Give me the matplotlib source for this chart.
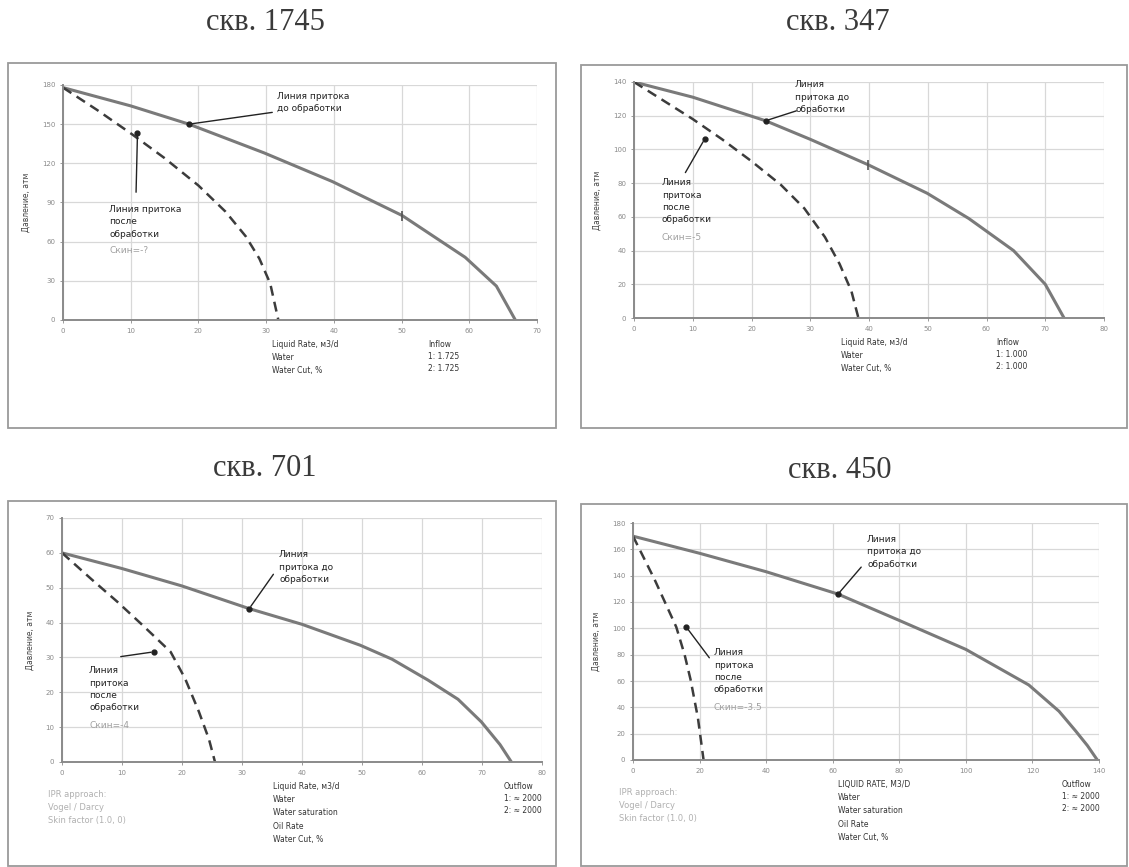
import matplotlib
matplotlib.use("Agg")
import matplotlib.pyplot as plt
from matplotlib.patches import Rectangle

W, H = 1129, 867

# ---- data (pressure, atm vs liquid rate, m3/d) ----
titles = ["скв. 1745", "скв. 347", "скв. 701", "скв. 450"]

q_before_1745 = [0, 10, 18.6, 29.7, 39.8, 50.1, 59.4, 64, 66.8]
p_before_1745 = [178, 164, 150, 128, 106, 80, 48, 26, 0]
q_after_1745 = [0, 5, 10, 15, 20, 24, 27, 29, 30.6, 31.8]
p_after_1745 = [178, 161, 143, 124, 103, 83, 64, 47, 28, 0]

q_before_347 = [0, 10, 22.4, 30, 39.8, 49.9, 57, 64.6, 70, 73.2]
p_before_347 = [140, 131, 117, 106, 91, 74, 59, 40, 20, 0]
q_after_347 = [0, 5, 10, 15, 20, 25, 29, 32.5, 35, 37, 38.2]
p_after_347 = [140, 129, 118, 106, 93, 79, 65, 48, 32, 16, 0]

q_before_701 = [0, 10, 20, 31.2, 40, 49.7, 55, 61, 66, 69.9, 73, 74.9]
p_before_701 = [60, 55.5, 50.5, 44, 39.5, 33.5, 29.5, 23.5, 18, 11.5, 5, 0]
q_after_701 = [0, 5, 9.2, 13.4, 18.1, 20.5, 22.8, 24.5, 25.5]
p_after_701 = [60, 52.3, 46, 39.3, 31.6, 24, 14.5, 6.5, 0]

q_before_450 = [0, 20, 40, 61.6, 80, 100, 118.9, 128, 133, 136.5, 139.5]
p_before_450 = [170, 157, 143, 126, 106, 84, 57, 37, 22, 11, 0]
q_after_450 = [0, 6.5, 13, 15.5, 17.3, 19.5, 21.2]
p_after_450 = [170, 137, 101, 80, 61, 32, 0]

x_ticks = [list(range(0, 71, 10)), list(range(0, 81, 10)),
           list(range(0, 81, 10)), list(range(0, 141, 20))]
y_ticks = [list(range(0, 181, 30)), list(range(0, 141, 20)),
           list(range(0, 71, 10)), list(range(0, 181, 20))]

skins = ["Скин=-?", "Скин=-5", "Скин=-4", "Скин=-3.5"]

mid_texts = [
    ["Liquid Rate, м3/d", "Water", "Water Cut, %"],
    ["Liquid Rate, м3/d", "Water", "Water Cut, %"],
    ["Liquid Rate, м3/d", "Water", "Water saturation", "Oil Rate", "Water Cut, %"],
    ["LIQUID RATE, М3/D", "Water", "Water saturation", "Oil Rate", "Water Cut, %"],
]
right_texts = [
    ["Inflow", "1: 1.725", "2: 1.725"],
    ["Inflow", "1: 1.000", "2: 1.000"],
    ["Outflow", "1: ≈ 2000", "2: ≈ 2000"],
    ["Outflow", "1: ≈ 2000", "2: ≈ 2000"],
]
left_texts = [None, None,
              ["IPR approach:", "Vogel / Darcy", "Skin factor (1.0, 0)"],
              ["IPR approach:", "Vogel / Darcy", "Skin factor (1.0, 0)"]]

# ---- layout (pixels) ----
axes_px = [(63, 85, 537, 320), (634, 82, 1104, 318),
           (62, 518, 542, 762), (633, 523, 1099, 760)]
frames_px = [(8, 63, 556, 428), (581, 65, 1127, 428),
             (8, 501, 556, 866), (581, 504, 1127, 866)]
title_px = [(265, 22), (838, 22), (265, 468), (840, 470)]

curves = [
    (q_before_1745, p_before_1745, q_after_1745, p_after_1745),
    (q_before_347, p_before_347, q_after_347, p_after_347),
    (q_before_701, p_before_701, q_after_701, p_after_701),
    (q_before_450, p_before_450, q_after_450, p_after_450),
]
# which point of each curve the callout arrows point at
tip_before = [2, 2, 3, 3]
tip_after = [2, 3, 4, 2]
# callout text anchors (pixels) and arrow tails
before_label_px = [(277, 92), (795, 80), (279, 550), (867, 535)]
before_tail_px = [(275, 112), (799, 110), (275, 572), (863, 565)]
after_label_px = [(109, 205), (662, 178), (89, 666), (714, 648)]
after_tail_px = [(136, 195), (684, 175), (118, 657), (711, 660)]
after_dx = [1.0, -3.0, -2.8, 3]
op_point = [5, 4, None, None]

fig = plt.figure(figsize=(W / 100, H / 100), dpi=100)
fig.patch.set_facecolor("white")


def frac(ax_px, px, py):
    l, t, r, b = ax_px
    return (px - l) / (r - l), (b - py) / (b - t)


for i in range(4):
    l, t, r, b = axes_px[i]
    fl, ft, fr, fb = frames_px[i]
    fig.patches.append(Rectangle((fl / W, 1 - fb / H), (fr - fl) / W, (fb - ft) / H,
                                 transform=fig.transFigure, fill=False,
                                 edgecolor="#9a9a9a", lw=1.3))
    fig.text(title_px[i][0] / W, 1 - title_px[i][1] / H, titles[i],
             family="Liberation Serif", fontsize=22, color="#3a3a3a",
             ha="center", va="center")

    ax = fig.add_axes([l / W, 1 - b / H, (r - l) / W, (b - t) / H])
    qb, pb, qa, pa = curves[i]
    ax.plot(qb, pb, color="#7a7a7a", lw=2.2, solid_capstyle="round")
    ax.plot(qa, pa, color="#3c3c3c", lw=1.8, dashes=(4, 2.5))
    if op_point[i] is not None:
        k = op_point[i]
        ax.plot([qb[k]], [pb[k]], marker="|", ms=7, mew=1.2, color="#555555")

    ax.set_xlim(x_ticks[i][0], x_ticks[i][-1])
    ax.set_ylim(y_ticks[i][0], y_ticks[i][-1])
    ax.set_xticks(x_ticks[i])
    ax.set_yticks(y_ticks[i])
    ax.tick_params(labelsize=5, colors="#8a8a8a", length=2, width=0.6)
    ax.grid(True, color="#d8d8d8", lw=0.9)
    ax.set_axisbelow(True)
    for side in ("top", "right"):
        ax.spines[side].set_visible(False)
    for side in ("left", "bottom"):
        ax.spines[side].set_color("#8a8a8a")
        ax.spines[side].set_linewidth(1.4)
    ax.set_ylabel("Давление, атм", fontsize=5.5, color="#444444", labelpad=8)

    # callouts
    bx, by = qb[tip_before[i]], pb[tip_before[i]]
    ax.annotate("", xy=(bx, by), xytext=frac(axes_px[i], *before_tail_px[i]),
                textcoords="axes fraction",
                arrowprops=dict(arrowstyle="-", color="#222222", lw=1.0))
    ax.plot([bx], [by], "o", ms=3.5, color="#222222")
    txt = ("Линия притока\nдо обработки" if i == 0
           else "Линия\nпритока до\nобработки")
    ax.text(*frac(axes_px[i], *before_label_px[i]), txt, transform=ax.transAxes,
            fontsize=6.5, color="#222222", va="top", ha="left", linespacing=1.5)

    k = tip_after[i]
    ax_, ay_ = qa[k] + after_dx[i], pa[k]
    ax.annotate("", xy=(ax_, ay_), xytext=frac(axes_px[i], *after_tail_px[i]),
                textcoords="axes fraction",
                arrowprops=dict(arrowstyle="-", color="#222222", lw=1.0))
    ax.plot([ax_], [ay_], "o", ms=3.5, color="#222222")
    txt = ("Линия притока\nпосле\nобработки" if i == 0
           else "Линия\nпритока\nпосле\nобработки")
    fx, fy = frac(axes_px[i], *after_label_px[i])
    ax.text(fx, fy, txt, transform=ax.transAxes, fontsize=6.5,
            color="#222222", va="top", ha="left", linespacing=1.5)
    n = txt.count("\n") + 1
    ax.text(fx, fy - n * 0.058 * 235 / (b - t), skins[i], transform=ax.transAxes,
            fontsize=6.5, color="#a0a0a0", va="top", ha="left")

    # text blocks under the axis
    mx = l + 0.44 * (r - l)
    rx = l + (0.77 if i < 2 else 0.92) * (r - l)
    fig.text(mx / W, 1 - (b + 20) / H, "\n".join(mid_texts[i]), fontsize=5.5,
             color="#333333", va="top", ha="left", linespacing=1.6)
    fig.text(rx / W, 1 - (b + 20) / H, "\n".join(right_texts[i]), fontsize=5.5,
             color="#333333", va="top", ha="left", linespacing=1.4)
    if left_texts[i] is not None:
        fig.text((l - 14) / W, 1 - (b + 28) / H, "\n".join(left_texts[i]),
                 fontsize=6, color="#b0b0b0", va="top", ha="left", linespacing=1.6)

fig.savefig("out.png", dpi=100)
